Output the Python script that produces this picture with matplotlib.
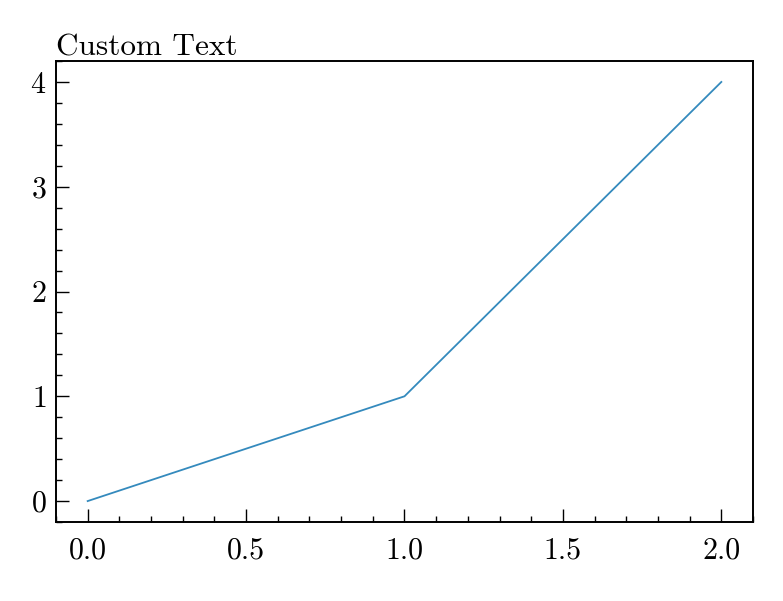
import matplotlib
matplotlib.use('Agg')
import matplotlib.pyplot as plt
from matplotlib.ticker import MultipleLocator

# 衬线字体（Computer Modern 风格）
plt.rcParams['font.family'] = 'serif'
plt.rcParams['font.serif'] = ['cmr10', 'DejaVu Serif']
plt.rcParams['mathtext.fontset'] = 'cm'
plt.rcParams['axes.formatter.use_mathtext'] = True
plt.rcParams['axes.unicode_minus'] = False

# 数据
x = [0.0, 1.0, 2.0]
y = [0.0, 1.0, 4.0]
title_text = 'Custom Text'

fig = plt.figure(figsize=(7.83, 6.01), dpi=100)
ax = fig.add_axes([0.0715, 0.1314, 0.8902, 0.7671])

ax.plot(x, y, color='#348ABD', linewidth=1.3)

ax.xaxis.set_major_locator(MultipleLocator(0.5))
ax.xaxis.set_minor_locator(MultipleLocator(0.1))
ax.yaxis.set_major_locator(MultipleLocator(1))
ax.yaxis.set_minor_locator(MultipleLocator(0.2))
ax.xaxis.set_major_formatter(plt.FormatStrFormatter('%.1f'))

ax.tick_params(which='both', direction='in', top=False, right=False,
               labelsize=21.5, width=1.0)
ax.tick_params(which='major', length=9.5)
ax.tick_params(which='minor', length=4.5)
ax.tick_params(axis='x', which='major', pad=11)
ax.tick_params(axis='y', which='major', pad=7)

for s in ax.spines.values():
    s.set_linewidth(1.4)

ax.set_title(title_text, loc='left', fontsize=22.5, pad=3)

fig.savefig('out.png', dpi=100)
